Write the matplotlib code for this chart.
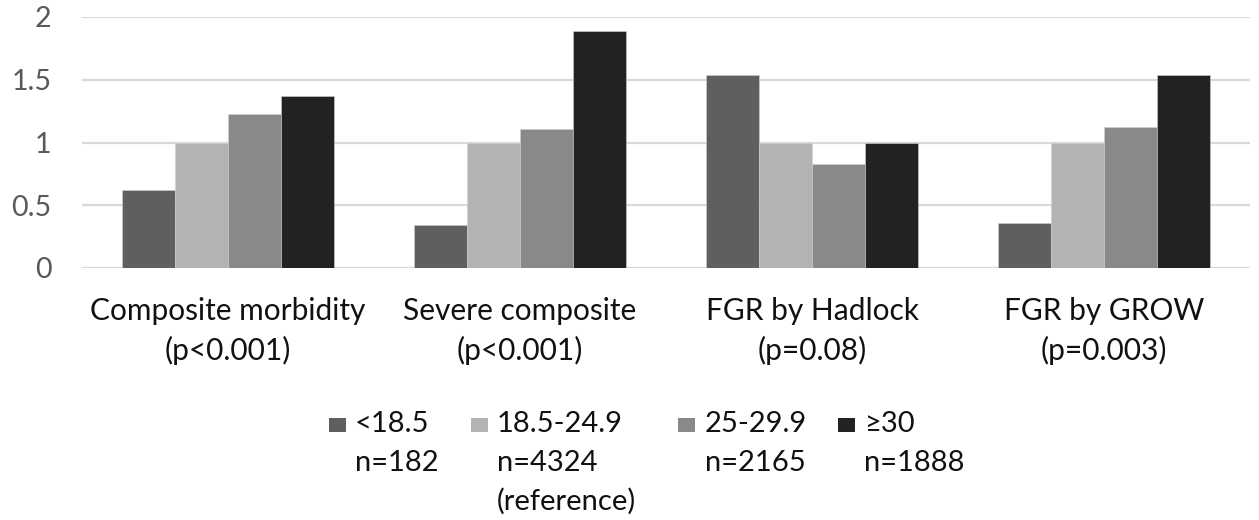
import matplotlib
matplotlib.use("Agg")
import matplotlib.pyplot as plt
from matplotlib.patches import Rectangle
import numpy as np

categories = ["Composite morbidity\n(p<0.001)", "Severe composite\n(p<0.001)",
              "FGR by Hadlock\n(p=0.08)", "FGR by GROW\n(p=0.003)"]
series_names = ["<18.5\nn=182", "18.5-24.9\nn=4324\n(reference)", "25-29.9\nn=2165", "≥30\nn=1888"]
bmi_lt185 = [0.62, 0.34, 1.54, 0.36]
bmi_185_249 = [1.0, 1.0, 1.0, 1.0]
bmi_25_299 = [1.23, 1.11, 0.83, 1.12]
bmi_ge30 = [1.37, 1.89, 1.0, 1.54]
yticks = [0, 0.5, 1, 1.5, 2]
ytick_labels = ["0", "0.5", "1", "1.5", "2"]

colors = ["#5f5f5f", "#b3b3b3", "#898989", "#222222"]
series = [bmi_lt185, bmi_185_249, bmi_25_299, bmi_ge30]

W, H = 1259, 520
plt.rcParams['font.family'] = ['Lato', 'DejaVu Sans']
fig = plt.figure(figsize=(W/100, H/100), dpi=100)
ax = fig.add_axes([82/W, 1-268/H, (1250-82)/W, (268-17)/H])

x = np.arange(len(categories))
w = 0.182
for i, (vals, c) in enumerate(zip(series, colors)):
    ax.bar(x + (i - 1.5) * w, vals, w, color=c, edgecolor="#d0d0d0", linewidth=0.4, zorder=3)

ax.set_xlim(-0.5, 3.5)
ax.set_ylim(0, 2)
ax.set_yticks(yticks)
ax.set_yticklabels(ytick_labels)
ax.yaxis.grid(True, color="#d9d9d9", linewidth=1.6, zorder=0)
ax.set_axisbelow(True)
for s in ax.spines.values():
    s.set_visible(False)
ax.tick_params(axis="y", length=0, pad=22, labelsize=20.5, labelcolor="#595959")
ax.set_xticks(x)
ax.set_xticklabels(categories, fontsize=21.5, color="#111111", linespacing=1.45)
ax.tick_params(axis="x", length=0, pad=21)

# legend drawn manually
hx = [329, 471, 678, 838]
tx = [355, 497, 705, 864]
baselines = [432, 471, 510]
for name, c, px, t in zip(series_names, colors, hx, tx):
    fig.patches.append(Rectangle((px/W, 1-432/H), 17/W, 14/H,
                                 transform=fig.transFigure, facecolor=c, edgecolor="none"))
    for line, b in zip(name.split("\n"), baselines):
        fig.text(t/W, 1-b/H, line, fontsize=21, color="#111111",
                 va="baseline", ha="left")

fig.savefig("out.png", dpi=100)
